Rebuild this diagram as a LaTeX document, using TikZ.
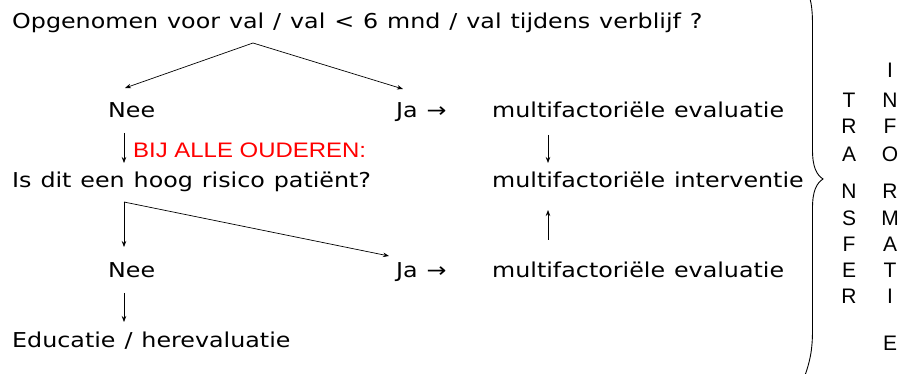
\documentclass[tikz,border=0pt]{standalone}
\usepackage{fontspec}
\setmainfont{DejaVu Sans}[FakeStretch=1.16, WordSpace=1.18]
\newfontfamily\capsfont{Liberation Sans}
\newfontfamily\warnfont{Liberation Sans}[FakeStretch=1.14]
\usetikzlibrary{arrows.meta}

\begin{document}
\begin{tikzpicture}[x=1pt, y=-1pt,
  txt/.style={anchor=base west, inner sep=0pt, font=\fontsize{20.5}{24}\selectfont},
  warn/.style={anchor=base west, inner sep=0pt, text=red, font=\warnfont\fontsize{21}{24}\selectfont},
  letter/.style={anchor=base, inner sep=0pt, font=\capsfont\fontsize{21}{24}\selectfont},
  arr/.style={-{Stealth[length=6pt, width=4.5pt]}, line width=0.7pt},
  brace/.style={line width=0.9pt}]
\useasboundingbox (0,0) rectangle (900,374);

% question and answers
\node[txt] (q1)   at (12,29)   {Opgenomen voor val / val < 6 mnd / val tijdens verblijf ?};
\node[txt] (nee1) at (108,118) {Nee};
\node[txt] (ja1)  at (396,118) {Ja →};
\node[txt] (me1)  at (492,118) {multifactoriële evaluatie};
\node[warn] (all) at (133,158) {BIJ ALLE OUDEREN:};
\node[txt] (q2)   at (12,188)  {Is dit een hoog risico patiënt?};
\node[txt] (mi)   at (492,188) {multifactoriële interventie};
\node[txt] (nee2) at (108,277) {Nee};
\node[txt] (ja2)  at (396,277) {Ja →};
\node[txt] (me2)  at (492,277) {multifactoriële evaluatie};
\node[txt] (edu)  at (12,347)  {Educatie / herevaluatie};

% connector end points
\coordinate (f1)  at (253,43);
\coordinate (t1)  at (125,88);
\coordinate (t2)  at (403,89);
\coordinate (n1b) at (124,133);
\coordinate (q2t) at (124,163);
\coordinate (e1b) at (548,135);
\coordinate (mit) at (548,163);
\coordinate (f2)  at (124,202);
\coordinate (n2t) at (124,247);
\coordinate (j2t) at (389,256);
\coordinate (e2t) at (548,240);
\coordinate (mib) at (548,210);
\coordinate (n2b) at (124,293);
\coordinate (edt) at (124,322);

\draw[arr] (f1) -- (t1);
\draw[arr] (f1) -- (t2);
\draw[arr] (n1b) -- (q2t);
\draw[arr] (e1b) -- (mit);
\draw[arr] (f2) -- (n2t);
\draw[arr] (f2) -- (j2t);
\draw[arr] (e2t) -- (mib);
\draw[arr] (n2b) -- (edt);

% curly brace
\draw[brace] (806,-12) .. controls (811,-2) and (812.5,8) .. (812.5,25)
  -- (812.5,150) .. controls (812.5,168) and (817,175) .. (823,179)
  .. controls (817,183) and (812.5,190) .. (812.5,208)
  -- (812.5,330) .. controls (812.5,350) and (810,362) .. (804,378);

% vertical words
\foreach \ch/\yy [count=\i] in {T/108, R/134, A/162, N/199, S/226, F/252, E/277, R/303}
  \node[letter] (tr\i) at (849,\yy) {\ch};
\foreach \ch/\yy [count=\i] in {I/78, N/108, F/134, O/162, R/199, M/226, A/252, T/277, I/303, E/350}
  \node[letter] (in\i) at (890,\yy) {\ch};
\end{tikzpicture}
\end{document}
